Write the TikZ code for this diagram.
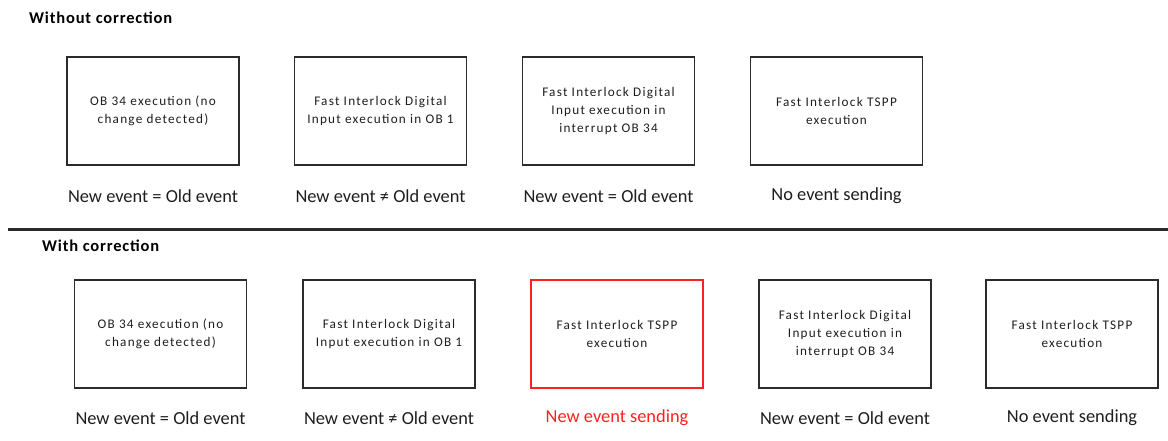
\documentclass[tikz,border=0pt]{standalone}
\usepackage{fontspec}
\setmainfont{Carlito}
\newfontfamily\boxfont[LetterSpace=9.5]{Carlito}
\newfontfamily\headfont[LetterSpace=5]{Carlito}
\definecolor{boxgray}{HTML}{2B2B2B}
\definecolor{txtgray}{HTML}{1E1E1E}
\definecolor{alertred}{HTML}{FF2020}
\tikzset{
  stepbox/.style={draw=boxgray, line width=1.4pt, minimum width=172pt, minimum height=108pt,
    align=center, inner sep=0pt, text=txtgray, font=\boxfont\fontsize{13.2}{18}\selectfont},
  caption/.style={inner sep=0pt, text=txtgray, font=\fontsize{18.4}{20}\selectfont},
  heading/.style={inner sep=0pt, anchor=west, text=black, font=\headfont\bfseries\fontsize{16.5}{18}\selectfont},
}
\begin{document}
\begin{tikzpicture}[x=1pt, y=-1pt]
  \useasboundingbox (0,0) rectangle (1168,440);

  % upper scenario
  \node[heading] (h1) at (29,18) {Without correction};
  \node[stepbox] (a1) at (153,111) {OB 34 execution (no\\change detected)};
  \node[stepbox] (a2) at (380.5,111) {Fast Interlock Digital\\Input execution in OB 1};
  \node[stepbox] (a3) at (608.5,111) {Fast Interlock Digital\\Input execution in\\interrupt OB 34};
  \node[stepbox] (a4) at (836.5,111) {Fast Interlock TSPP\\execution};
  \node[caption] (la1) at (153,196) {New event = Old event};
  \node[caption] (la2) at (380.5,196) {New event ≠ Old event};
  \node[caption] (la3) at (608.5,196) {New event = Old event};
  \node[caption] (la4) at (836.5,196) {No event sending};

  % separator
  \coordinate (sl) at (8,229);
  \coordinate (sr) at (1168,229);
  \draw[line width=3pt, draw=boxgray] (sl) -- (sr);

  % lower scenario
  \node[heading] (h2) at (42,246) {With correction};
  \node[stepbox] (b1) at (160.5,334) {OB 34 execution (no\\change detected)};
  \node[stepbox] (b2) at (389,334) {Fast Interlock Digital\\Input execution in OB 1};
  \node[stepbox, draw=alertred] (b3) at (617,334) {Fast Interlock TSPP\\execution};
  \node[stepbox] (b4) at (845,334) {Fast Interlock Digital\\Input execution in\\interrupt OB 34};
  \node[stepbox] (b5) at (1072,334) {Fast Interlock TSPP\\execution};
  \node[caption] (lb1) at (160.5,418) {New event = Old event};
  \node[caption] (lb2) at (389,418) {New event ≠ Old event};
  \node[caption, text=alertred] (lb3) at (617,418) {New event sending};
  \node[caption] (lb4) at (845,418) {New event = Old event};
  \node[caption] (lb5) at (1072,418) {No event sending};
\end{tikzpicture}
\end{document}
